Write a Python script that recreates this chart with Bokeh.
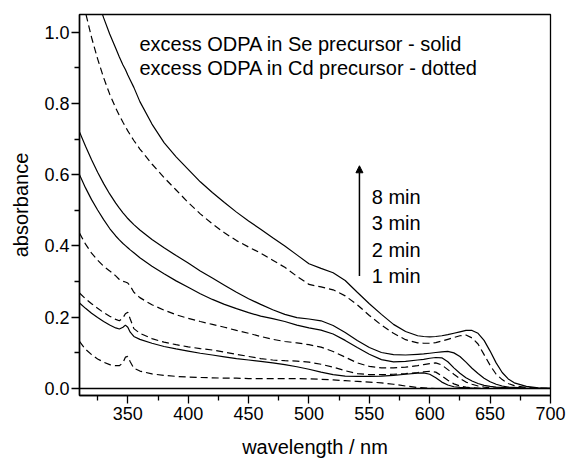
from bokeh.plotting import figure
from bokeh.models import Range1d, FixedTicker, PrintfTickFormatter, Span, Label, Arrow, NormalHead
from bokeh.embed import file_html
from bokeh.resources import INLINE

wavelength = [310, 315, 320, 325, 330, 335, 340, 343, 346, 348, 350, 352, 355,
              360, 370, 380, 390, 400, 410, 420, 430, 440, 450, 460, 470, 480, 490,
              500, 510, 520, 530, 540, 550, 560, 570, 580, 590, 595,
              600, 605, 610, 615, 620, 625, 630, 635, 640, 645, 650, 655, 660, 665, 670,
              680, 690, 700]

# excess ODPA in Se precursor (solid)
se_8min = [1.30, 1.22, 1.15, 1.09, 1.04, 0.995, 0.955, 0.93, 0.908, 0.895, 0.88, 0.866, 0.845,
           0.805, 0.742, 0.69, 0.65, 0.615, 0.58, 0.55, 0.522, 0.495, 0.47, 0.447, 0.423, 0.40, 0.375,
           0.35, 0.337, 0.325, 0.303, 0.27, 0.238, 0.208, 0.18, 0.16, 0.148, 0.146,
           0.145, 0.146, 0.148, 0.151, 0.155, 0.159, 0.163, 0.163, 0.155, 0.135, 0.105, 0.072, 0.045, 0.027, 0.016,
           0.006, 0.002, 0.001]
se_3min = [0.72, 0.68, 0.642, 0.607, 0.575, 0.546, 0.52, 0.506, 0.493, 0.485, 0.477, 0.47, 0.46,
           0.445, 0.418, 0.395, 0.373, 0.352, 0.33, 0.31, 0.29, 0.27, 0.252, 0.236, 0.221, 0.208, 0.199,
           0.195, 0.19, 0.177, 0.157, 0.135, 0.115, 0.101, 0.095, 0.094, 0.096, 0.097,
           0.099, 0.101, 0.103, 0.104, 0.1, 0.09, 0.074, 0.057, 0.042, 0.029, 0.019, 0.012, 0.007, 0.004, 0.003,
           0.001, 0.0, 0.0]
se_2min = [0.60, 0.563, 0.53, 0.501, 0.474, 0.449, 0.428, 0.417, 0.407, 0.401, 0.395, 0.389, 0.381,
           0.367, 0.343, 0.322, 0.302, 0.284, 0.266, 0.25, 0.236, 0.224, 0.213, 0.203, 0.196, 0.188, 0.178,
           0.17, 0.164, 0.153, 0.135, 0.115, 0.096, 0.081, 0.075, 0.076, 0.08, 0.082,
           0.085, 0.087, 0.086, 0.075, 0.058, 0.043, 0.03, 0.021, 0.014, 0.009, 0.006, 0.004, 0.003, 0.002, 0.001,
           0.0, 0.0, 0.0]
se_1min = [0.24, 0.225, 0.211, 0.199, 0.188, 0.178, 0.17, 0.167, 0.172, 0.178, 0.172, 0.158, 0.146,
           0.138, 0.127, 0.118, 0.111, 0.105, 0.099, 0.094, 0.089, 0.084, 0.08, 0.076, 0.072, 0.067, 0.061,
           0.054, 0.046, 0.039, 0.035, 0.034, 0.034, 0.035, 0.037, 0.04, 0.043, 0.044,
           0.04, 0.03, 0.018, 0.01, 0.005, 0.003, 0.002, 0.001, 0.0, 0.0, 0.0, 0.0, 0.0, 0.0, 0.0,
           0.0, 0.0, 0.0]

# excess ODPA in Cd precursor (dotted)
cd_8min = [1.14, 1.055, 0.985, 0.925, 0.872, 0.826, 0.787, 0.766, 0.747, 0.735, 0.723, 0.712, 0.696,
           0.672, 0.63, 0.592, 0.557, 0.522, 0.49, 0.462, 0.437, 0.415, 0.397, 0.38, 0.36, 0.34, 0.315,
           0.292, 0.285, 0.277, 0.26, 0.235, 0.205, 0.178, 0.155, 0.137, 0.128, 0.127,
           0.127, 0.129, 0.133, 0.138, 0.143, 0.148, 0.15, 0.142, 0.125, 0.095, 0.065, 0.04, 0.025, 0.014, 0.008,
           0.003, 0.001, 0.0]
cd_3min = [0.436, 0.405, 0.38, 0.36, 0.343, 0.33, 0.316, 0.306, 0.301, 0.299, 0.296, 0.288, 0.27,
           0.255, 0.235, 0.22, 0.207, 0.197, 0.188, 0.18, 0.172, 0.163, 0.155, 0.146, 0.138, 0.132, 0.128,
           0.123, 0.116, 0.104, 0.088, 0.072, 0.062, 0.058, 0.058, 0.06, 0.064, 0.067,
           0.07, 0.072, 0.066, 0.053, 0.04, 0.028, 0.018, 0.012, 0.007, 0.004, 0.002, 0.001, 0.0, 0.0, 0.0,
           0.0, 0.0, 0.0]
cd_2min = [0.268, 0.252, 0.238, 0.225, 0.213, 0.203, 0.194, 0.19, 0.198, 0.21, 0.214, 0.195, 0.168,
           0.155, 0.14, 0.13, 0.123, 0.117, 0.112, 0.108, 0.102, 0.096, 0.09, 0.084, 0.08, 0.078, 0.077,
           0.074, 0.068, 0.06, 0.05, 0.042, 0.039, 0.039, 0.04, 0.042, 0.045, 0.047,
           0.048, 0.046, 0.035, 0.023, 0.013, 0.007, 0.004, 0.002, 0.001, 0.0, 0.0, 0.0, 0.0, 0.0, 0.0,
           0.0, 0.0, 0.0]
cd_1min = [0.132, 0.11, 0.095, 0.083, 0.074, 0.067, 0.064, 0.064, 0.072, 0.088, 0.09, 0.075, 0.057,
           0.049, 0.041, 0.037, 0.034, 0.032, 0.031, 0.03, 0.029, 0.029, 0.028, 0.028, 0.028, 0.028, 0.028,
           0.027, 0.026, 0.024, 0.022, 0.02, 0.018, 0.016, 0.012, 0.007, 0.003, 0.002,
           0.001, 0.0, 0.0, 0.0, 0.0, 0.0, 0.0, 0.0, 0.0, 0.0, 0.0, 0.0, 0.0, 0.0, 0.0,
           0.0, 0.0, 0.0]

x_major = [350, 400, 450, 500, 550, 600, 650, 700]
x_minor = [325, 375, 425, 475, 525, 575, 625, 675]
y_major = [0.0, 0.2, 0.4, 0.6, 0.8, 1.0]
y_minor = [0.1, 0.3, 0.5, 0.7, 0.9]
time_labels = ["8 min", "3 min", "2 min", "1 min"]
note_lines = ["excess ODPA in Se precursor - solid", "excess ODPA in Cd precursor - dotted"]
x_title = "wavelength / nm"
y_title = "absorbance"

FONT = "Liberation Sans"

p = figure(width=566, height=460, output_backend="svg", toolbar_location=None,
           x_range=Range1d(310, 700), y_range=Range1d(-0.0196, 1.0495),
           min_border_left=79, min_border_right=16, min_border_top=14, min_border_bottom=64)
p.background_fill_color = "white"
p.border_fill_color = "white"
p.outline_line_color = "black"
p.outline_line_width = 1.3
p.xgrid.visible = False
p.ygrid.visible = False

for ax, major, minor in ((p.xaxis[0], x_major, x_minor), (p.yaxis[0], y_major, y_minor)):
    ax.ticker = FixedTicker(ticks=major, minor_ticks=minor)
    ax.axis_line_width = 1.5
    ax.axis_line_color = "black"
    ax.major_tick_line_width = 1.3
    ax.minor_tick_line_width = 1.3
    ax.major_tick_line_color = "black"
    ax.minor_tick_line_color = "black"
    ax.major_tick_in = 0
    ax.major_tick_out = 8
    ax.minor_tick_in = 0
    ax.minor_tick_out = 5
    ax.major_label_text_font = FONT
    ax.major_label_text_font_size = "18px"
    ax.major_label_text_color = "black"
    ax.axis_label_text_font = FONT
    ax.axis_label_text_font_size = "20px"
    ax.axis_label_text_font_style = "normal"
    ax.axis_label_text_color = "black"

p.xaxis[0].major_label_standoff = 3
p.xaxis[0].major_label_text_line_height = 1.0
p.xaxis[0].axis_label_text_line_height = 1.0
p.yaxis[0].major_label_standoff = 2
p.yaxis[0].formatter = PrintfTickFormatter(format="%.1f")
p.xaxis[0].axis_label = x_title
p.xaxis[0].axis_label_standoff = 13
p.yaxis[0].axis_label = y_title
p.yaxis[0].axis_label_standoff = 9

p.add_layout(Span(location=0, dimension="width", line_color="black", line_width=1.5))

for ys in (se_8min, se_3min, se_2min, se_1min):
    p.line(wavelength, ys, line_color="black", line_width=1.2)
for ys in (cd_8min, cd_3min, cd_2min, cd_1min):
    p.line(wavelength, ys, line_color="black", line_width=1.2, line_dash="7 4")

for i, t in enumerate(note_lines):
    p.add_layout(Label(x=359.6, y=0.9675 - i * 0.0675, text=t, text_font=FONT,
                       text_font_size="20px", text_color="black",
                       text_align="left", text_baseline="alphabetic"))

p.add_layout(Arrow(end=NormalHead(size=7, fill_color="black", line_color="black", line_width=1),
                   x_start=541.8, y_start=0.316, x_end=541.8, y_end=0.625,
                   line_color="black", line_width=1.5))
for i, t in enumerate(time_labels):
    p.add_layout(Label(x=552, y=0.538 - i * 0.0741, text=t, text_font=FONT,
                       text_font_size="20px", text_color="black",
                       text_align="left", text_baseline="alphabetic"))

open("out.html", "w").write(file_html(p, INLINE))
